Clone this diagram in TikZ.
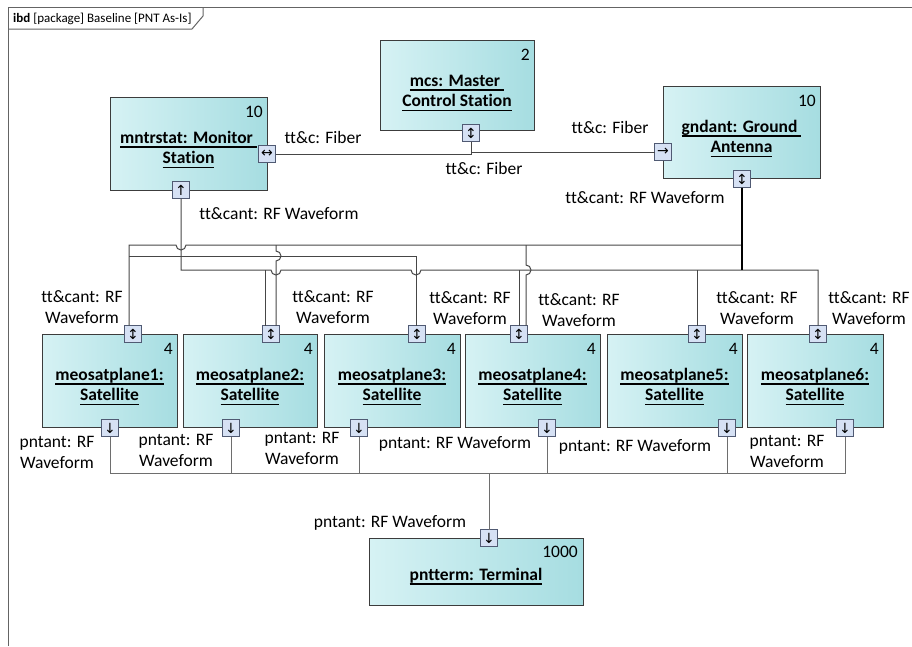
\documentclass[tikz,border=0pt]{standalone}
\usepackage{fontspec}
\setmainfont{Carlito}[Ligatures=NoCommon]
\newfontfamily\symfont{DejaVu Sans}
\usetikzlibrary{calc}

\definecolor{boxL}{RGB}{214,242,244}
\definecolor{boxR}{RGB}{166,221,225}
\definecolor{boxline}{RGB}{60,60,60}
\definecolor{portfill}{RGB}{214,225,244}
\definecolor{portline}{RGB}{80,90,115}
\definecolor{wirec}{RGB}{70,70,70}
\definecolor{busc}{RGB}{110,110,110}
\definecolor{framec}{RGB}{100,100,100}

% two centred lines whose first baseline is the node's base
\newcommand\twoline[2]{\begin{tabular}[t]{@{}c@{}}#1\\#2\end{tabular}}
% underline drawn a little below the baseline
\newsavebox\ulbox
\newcommand\ulx[1]{\sbox\ulbox{#1}\rlap{\rule[-4.5pt]{\wd\ulbox}{1.1pt}}\usebox\ulbox}

\tikzset{
  blk/.style={rectangle, draw=boxline, line width=1pt, left color=boxL, right color=boxR, inner sep=0pt, outer sep=0pt},
  mult/.style={inner sep=0pt, font=\fontsize{17.5}{21}\selectfont},
  nm/.style={inner sep=0pt, font=\fontsize{17.5}{20.5}\selectfont\bfseries},
  lbl/.style={inner sep=0pt, font=\fontsize{17.5}{21}\selectfont},
  port/.style={rectangle, draw=portline, fill=portfill, line width=0.8pt, minimum size=17pt, inner sep=0pt, outer sep=0pt, font=\symfont\fontsize{14}{14}\selectfont},
  wire/.style={draw=wirec, line width=1pt},
  trunk/.style={draw=black, line width=2.6pt},
  bus/.style={draw=busc, line width=1pt},
  hdr/.style={inner sep=0pt, font=\fontsize{13}{15}\selectfont},
}

% part box: name, x, y, width, height, multiplicity, name line 1, name line 2
\newcommand\partbox[8]{%
  \node[blk, minimum width=#4, minimum height=#5, anchor=north west] (#1) at (#2,#3) {};
  \node[mult, anchor=base east] (#1-m) at ([xshift=-4pt,yshift=-20pt]#1.north east) {#6};
  \node[nm, anchor=base] (#1-t) at ([yshift=-46pt]#1.north) {\twoline{\ulx{#7}}{\ulx{#8}}};
}

\begin{document}
\begin{tikzpicture}[x=1pt, y=-1pt]
\useasboundingbox (0,0) rectangle (912,646);

% diagram frame and its heading
\draw[framec, line width=1pt] (8,646) -- (8,7) -- (912,7);
\draw[framec, line width=1pt] (8,29) -- (192,29) -- (203,16) -- (203,7);
\node[hdr, anchor=base west] (title) at (13,22) {\textbf{ibd} [package] Baseline [PNT As-Is]};

% parts
\partbox{mntr}{110}{97}{157}{93}{10}{mntrstat: Monitor\ }{Station}
\partbox{mcs}{380}{40}{154}{90}{2}{mcs: Master\ }{Control Station}
\partbox{gnd}{663}{86}{157}{92}{10}{gndant: Ground\ }{Antenna}
\partbox{s1}{42}{334}{135}{93}{4}{meosatplane1:}{Satellite}
\partbox{s2}{183}{334}{134}{93}{4}{meosatplane2:}{Satellite}
\partbox{s3}{324}{334}{136}{93}{4}{meosatplane3:}{Satellite}
\partbox{s4}{465}{334}{135}{93}{4}{meosatplane4:}{Satellite}
\partbox{s5}{607}{334}{135}{93}{4}{meosatplane5:}{Satellite}
\partbox{s6}{747}{334}{136}{93}{4}{meosatplane6:}{Satellite}

\node[blk, minimum width=214, minimum height=67, anchor=north west] (term) at (369,538) {};
\node[mult, anchor=base east] (term-m) at ([xshift=-5pt,yshift=-19pt]term.north east) {1000};
\node[nm, anchor=base] (term-t) at ([yshift=-42pt]term.north) {\ulx{pntterm: Terminal}};

% ports
\node[port] (mntrR) at (267,154) {↔};
\node[port] (mntrB) at (181,190) {↑};
\node[port] (mcsB)  at (471,133) {↕};
\node[port] (gndL)  at (663,152) {→};
\node[port] (gndB)  at (742,179) {↕};
\node[port] (s1T) at (133,334) {↕};
\node[port] (s2T) at (271,334) {↕};
\node[port] (s3T) at (417,334) {↕};
\node[port] (s4T) at (519,334) {↕};
\node[port] (s5T) at (697,334) {↕};
\node[port] (s6T) at (818,334) {↕};
\node[port] (s1B) at (110,428) {↓};
\node[port] (s2B) at (231,428) {↓};
\node[port] (s3B) at (359,428) {↓};
\node[port] (s4B) at (547,428) {↓};
\node[port] (s5B) at (727,428) {↓};
\node[port] (s6B) at (845,428) {↓};
\node[port] (termT) at (489,538) {↓};

% fibre links between the ground segment stations
\draw[wire] (mntrR.east) -| (mcsB.south);
\draw[wire] (mcsB.south) |- (gndL.west);

% RF trunks to the satellite planes
\coordinate (j1) at (742,245);
\coordinate (j2) at (129,256);
\coordinate (j3) at (742,270);
\draw[wire] (gndB.south) -- (j1) -- (186,245) arc[start angle=0, end angle=-180, radius=5pt] -- (129,245) -- ([xshift=-4pt]s1T.north);
\draw[wire] (j2) -- (416,256) -- ([xshift=-1pt]s3T.north);
\draw[wire] (mntrB.south) -- (181,270) -- (271,270) arc[start angle=180, end angle=360, radius=5pt]
  -- (411,270) arc[start angle=180, end angle=360, radius=5pt] -- (818,270) -- (s6T.north);
\draw[trunk] (gndB.south) -- (j3);

% branches down to the satellite ports
\coordinate (b2a) at (276,245);
\coordinate (b2b) at (265,270);
\coordinate (b4a) at (526,245);
\coordinate (b4b) at (519,270);
\coordinate (b5) at (697,270);
\draw[wire] (b2a) -- (276,251) arc[start angle=90, end angle=-90, radius=5pt] -- ([xshift=5pt]s2T.north);
\draw[wire] (b2b) -- ([xshift=-6pt]s2T.north);
\draw[wire] (b4a) -- (526,265) arc[start angle=90, end angle=-90, radius=5pt] -- ([xshift=7pt]s4T.north);
\draw[wire] (b4b) -- (s4T.north);
\draw[wire] (b5) -- (s5T.north);

% PNT broadcast bus to the terminal
\coordinate (busW) at (110,473);
\coordinate (busE) at (845,473);
\draw[bus] (s1B.south) -- (busW) -- (busE) -- (s6B.south);
\draw[bus] (s2B.south) -- (231,473);
\draw[bus] (s3B.south) -- (359,473);
\draw[bus] (s4B.south) -- (547,473);
\draw[bus] (s5B.south) -- (727,473);
\draw[bus] (489,473) -- (termT.north);

% connector end labels
\node[lbl, anchor=base] (f1) at (323,143) {tt\&c: Fiber};
\node[lbl, anchor=base] (f2) at (484,174) {tt\&c: Fiber};
\node[lbl, anchor=base] (f3) at (610,133) {tt\&c: Fiber};
\node[lbl, anchor=base] (r1) at (279,219) {tt\&cant: RF Waveform};
\node[lbl, anchor=base] (r2) at (645,203) {tt\&cant: RF Waveform};

\node[lbl, anchor=base] (t1) at (82,302) {\twoline{tt\&cant: RF}{Waveform}};
\node[lbl, anchor=base] (t2) at (333,302) {\twoline{tt\&cant: RF}{Waveform}};
\node[lbl, anchor=base] (t3) at (470,303) {\twoline{tt\&cant: RF}{Waveform}};
\node[lbl, anchor=base] (t4) at (579,305) {\twoline{tt\&cant: RF}{Waveform}};
\node[lbl, anchor=base] (t5) at (757,303) {\twoline{tt\&cant: RF}{Waveform}};
\node[lbl, anchor=base] (t6) at (869,303) {\twoline{tt\&cant: RF}{Waveform}};

\node[lbl, anchor=base] (p1) at (57,447) {\twoline{pntant: RF}{Waveform}};
\node[lbl, anchor=base] (p2) at (176,445) {\twoline{pntant: RF}{Waveform}};
\node[lbl, anchor=base] (p3) at (302,443) {\twoline{pntant: RF}{Waveform}};
\node[lbl, anchor=base] (p4) at (455,448) {pntant: RF Waveform};
\node[lbl, anchor=base] (p5) at (635,451) {pntant: RF Waveform};
\node[lbl, anchor=base] (p6) at (787,446) {\twoline{pntant: RF}{Waveform}};
\node[lbl, anchor=base] (pt) at (390,527) {pntant: RF Waveform};
\end{tikzpicture}
\end{document}
